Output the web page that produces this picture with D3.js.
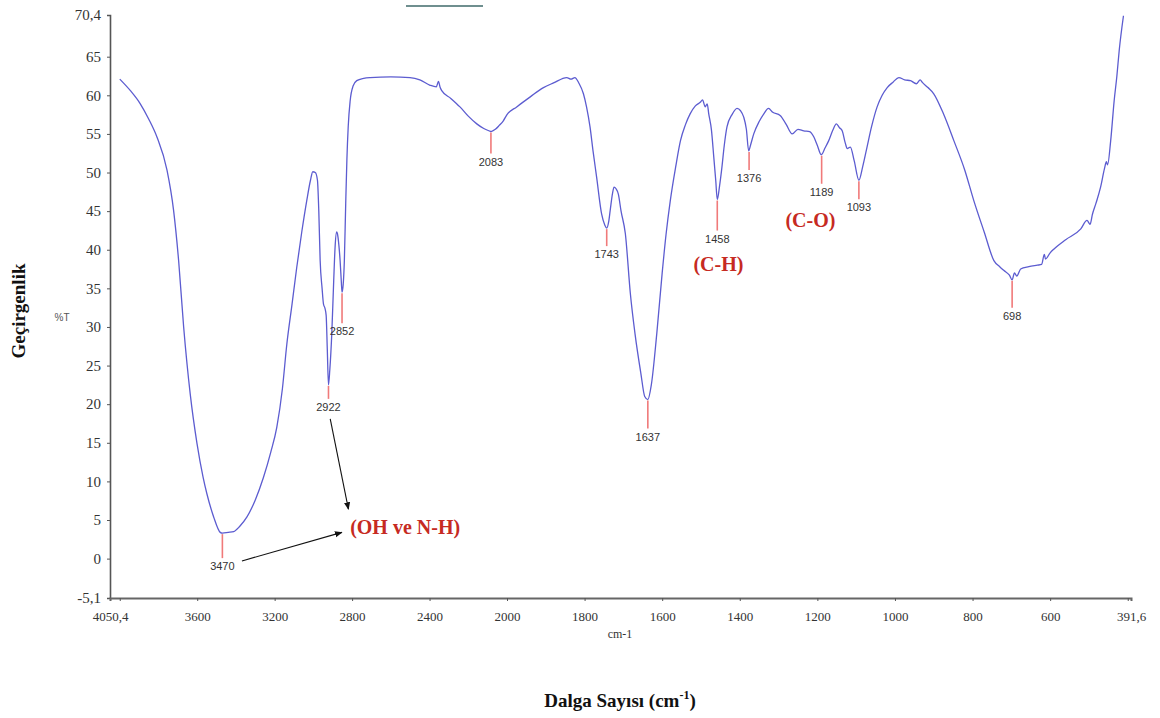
<!DOCTYPE html>
<html>
<head>
<meta charset="utf-8">
<script src="https://cdn.jsdelivr.net/npm/d3@7"></script>
<style>
  html, body { margin: 0; padding: 0; background: #fff; }
  svg { display: block; }
</style>
</head>
<body>
<div id="chart"></div>
<script>
// ---- data ----
const waveNumbers = [
  4000, 3945, 3894, 3850, 3808, 3756, 3722, 3696, 3670, 3636, 3601, 3570, 3550, 3515, 3481, 3470, 3440, 3412, 3380, 3343,
  3300, 3258, 3220, 3189, 3160, 3137, 3110, 3086, 3060, 3034, 3015, 3003, 2990, 2979, 2972, 2965, 2955, 2948, 2940, 2934,
  2928, 2922, 2915, 2905, 2895, 2888, 2880, 2876, 2868, 2862, 2856, 2852, 2846, 2840, 2833, 2827, 2820, 2810, 2795, 2776,
  2740, 2707, 2600, 2501, 2450, 2397, 2365, 2354, 2345, 2337, 2290, 2243, 2200, 2156, 2120, 2088, 2083, 2060, 2040, 2019,
  2000, 1975, 1940, 1906, 1880, 1846, 1835, 1825, 1815, 1803, 1795, 1786, 1778, 1769, 1756, 1748, 1743, 1738, 1734, 1728,
  1724, 1719, 1713, 1706, 1695, 1682, 1670, 1655, 1645, 1637, 1628, 1614, 1600, 1590, 1579, 1565, 1553, 1540, 1528, 1515,
  1502, 1496, 1489, 1484, 1480, 1473, 1467, 1462, 1458, 1452, 1446, 1440, 1433, 1420, 1407, 1398, 1390, 1383, 1377, 1372,
  1364, 1350, 1338, 1326, 1315, 1296, 1280, 1265, 1250, 1235, 1220, 1209, 1200, 1190, 1180, 1171, 1160, 1151, 1143, 1136,
  1128, 1123, 1115, 1105, 1093, 1083, 1072, 1060, 1046, 1033, 1020, 1005, 990, 975, 960, 945, 935, 930, 915, 900,
  875, 848, 820, 797, 770, 745, 730, 719, 705, 698, 692, 686, 676, 655, 633, 622, 615, 612, 600, 590,
  560, 521, 505, 497, 491, 482, 470, 460, 455, 452, 444, 435, 428, 422, 411
];
const transmittance = [
  62.1, 60.6, 58.9, 56.9, 54.6, 50.3, 45.1, 38.6, 30.0, 21.3, 14.9, 10.6, 8.4, 5.4, 3.4, 3.3, 3.4, 3.5, 4.2, 5.4,
  7.6, 10.5, 13.8, 17.0, 22.0, 27.8, 33.0, 37.7, 42.3, 46.4, 49.0, 50.1, 50.0, 49.0, 45.0, 38.6, 35.0, 33.0, 32.4, 31.5,
  27.0, 22.5, 24.5, 29.1, 36.0, 40.3, 42.3, 42.1, 40.5, 38.6, 36.0, 34.5, 35.5, 38.6, 46.0, 51.6, 56.0, 59.3, 61.2, 61.9,
  62.2, 62.3, 62.4, 62.3, 62.0, 61.3, 61.1, 61.8, 61.0, 60.6, 59.6, 58.5, 57.3, 56.3, 55.7, 55.35, 55.3, 55.6, 56.1, 56.7,
  57.5, 58.5, 59.8, 61.0, 61.6, 62.3, 62.1, 62.3, 61.6, 60.2, 58.5, 55.9, 52.7, 49.4, 44.6, 43.2, 42.8, 43.6, 45.1, 47.3,
  48.1, 47.9, 47.2, 45.0, 42.1, 34.3, 29.1, 24.0, 21.0, 20.6, 22.5, 29.1, 37.0, 42.0, 46.4, 50.8, 54.1, 56.2, 57.6, 58.6,
  59.1, 59.4, 58.5, 58.9, 57.6, 55.5, 52.0, 49.0, 46.5, 48.3, 50.7, 53.5, 55.9, 57.5, 58.3, 58.0, 57.2, 55.6, 52.8, 53.6,
  55.0, 56.6, 57.6, 58.3, 57.8, 57.4, 56.2, 55.0, 55.6, 55.4, 55.3, 54.6, 53.5, 52.3, 53.2, 54.1, 55.5, 56.3, 55.8, 55.4,
  53.8, 53.1, 53.3, 51.5, 49.0, 50.8, 53.3, 56.0, 58.5, 60.0, 61.0, 61.7, 62.3, 62.0, 61.9, 61.5, 62.0, 61.7, 61.0, 60.2,
  57.6, 54.1, 50.3, 46.4, 42.3, 38.6, 37.8, 37.3, 36.7, 36.1, 37.0, 36.6, 37.5, 37.8, 38.0, 38.1, 39.4, 38.8, 39.6, 40.1,
  41.3, 42.7, 43.8, 43.3, 44.6, 46.0, 48.1, 50.5, 51.4, 51.0, 54.1, 59.3, 62.5, 65.8, 70.3
];

const peakWaveNumbers = [3470, 2922, 2852, 2083, 1743, 1637, 1458, 1376, 1189, 1093, 698];
const peakTransmittance = [3.3, 22.5, 34.5, 55.3, 42.8, 20.6, 46.5, 52.8, 52.3, 49.0, 36.1];

const yTicks = [70.4, 65, 60, 55, 50, 45, 40, 35, 30, 25, 20, 15, 10, 5, 0, -5.1];
const xTicks = [4050.4, 4000, 3600, 3200, 2800, 2400, 2000, 1800, 1600, 1400, 1200, 1000, 800, 600, 400, 391.6];
const xUnlabeled = [4000, 400];

const groupLabels = ["(OH ve N-H)", "(C-H)", "(C-O)"];
const groupLabelWn = [2810, 1455, 1218];
const groupLabelT = [3.2, 37.3, 43.0];

const width = 1160, height = 718;

const svg = d3.select("#chart").append("svg")
  .attr("width", width)
  .attr("height", height);

// spectrum x axis: 2x expansion below 2000 cm-1
const x = d3.scaleLinear()
  .domain([4050.4, 2000, 391.6])
  .range([110, 507, 1131]);

const y = d3.scaleLinear()
  .domain([-5.1, 70.4])
  .range([598, 15]);

const fmt = d => String(d).replace(".", ",");
const serif = "'Liberation Serif', 'Times New Roman', serif";

// y axis
const yAxisG = svg.append("g")
  .attr("transform", `translate(${x.range()[0]},0)`)
  .call(d3.axisLeft(y).tickValues(yTicks).tickSize(3).tickPadding(6).tickFormat(fmt));
yAxisG.select(".domain").attr("stroke", "#555").attr("stroke-width", 1.6);
yAxisG.selectAll(".tick line").attr("stroke", "#555");
yAxisG.selectAll(".tick text")
  .attr("font-family", serif)
  .attr("font-size", "15px")
  .attr("fill", "#333");

// x axis
const xAxisG = svg.append("g")
  .attr("transform", `translate(0,${y.range()[0]})`)
  .call(d3.axisBottom(x).tickValues(xTicks).tickSize(3).tickPadding(11)
    .tickFormat(d => xUnlabeled.includes(d) ? "" : fmt(d)));
xAxisG.select(".domain").attr("stroke", "#666").attr("stroke-width", 2);
xAxisG.selectAll(".tick line").attr("stroke", "#555")
  .attr("opacity", d => (d === 4050.4 || d === 391.6) ? 0 : 1);
xAxisG.selectAll(".tick text")
  .attr("font-family", serif)
  .attr("font-size", "13px")
  .attr("fill", "#333");

svg.append("text")
  .attr("x", 620)
  .attr("y", 638)
  .attr("text-anchor", "middle")
  .attr("font-family", serif)
  .attr("font-size", "12px")
  .attr("fill", "#333")
  .text("cm-1");

svg.append("text")
  .attr("x", 62)
  .attr("y", 321)
  .attr("text-anchor", "middle")
  .attr("font-family", "'Liberation Sans', Arial, sans-serif")
  .attr("font-size", "10px")
  .attr("fill", "#555")
  .text("%T");

// axis titles
svg.append("text")
  .attr("transform", "translate(25,311) rotate(-90)")
  .attr("text-anchor", "middle")
  .attr("font-family", serif)
  .attr("font-weight", "bold")
  .attr("font-size", "19px")
  .attr("fill", "#111")
  .text("Geçirgenlik");

const xt = svg.append("text")
  .attr("x", 620)
  .attr("y", 707)
  .attr("text-anchor", "middle")
  .attr("font-family", serif)
  .attr("font-weight", "bold")
  .attr("font-size", "19px")
  .attr("fill", "#111");
xt.append("tspan").text("Dalga Sayısı (cm");
xt.append("tspan").attr("dy", -8).attr("font-size", "12px").text("-1");
xt.append("tspan").attr("dy", 8).text(")");

// small stray line at the top
svg.append("line")
  .attr("x1", 406).attr("x2", 483)
  .attr("y1", 6).attr("y2", 6)
  .attr("stroke", "#6f8f8f")
  .attr("stroke-width", 2);

// spectrum
const spectrum = waveNumbers.map((w, i) => ({ w, t: transmittance[i] }));
const line = d3.line()
  .x(d => x(d.w))
  .y(d => y(d.t))
  .curve(d3.curveMonotoneX);

svg.append("path")
  .datum(spectrum)
  .attr("fill", "none")
  .attr("stroke", "#5c5cd0")
  .attr("stroke-width", 1.3)
  .attr("stroke-linejoin", "round")
  .attr("d", line);

// peak markers
const tickLen = { 3470: 24, 2922: 13, 2852: 30, 2083: 21, 1743: 17, 1637: 28, 1458: 30, 1376: 18, 1189: 28, 1093: 18, 698: 27 };
const peaks = svg.append("g");
peakWaveNumbers.forEach((w, i) => {
  const px = x(w);
  const py = y(peakTransmittance[i]) + 1;
  const len = tickLen[w];
  peaks.append("line")
    .attr("x1", px).attr("x2", px)
    .attr("y1", py).attr("y2", py + len)
    .attr("stroke", "#f07a7a")
    .attr("stroke-width", 1.6);
  peaks.append("text")
    .attr("x", px)
    .attr("y", py + len + 12)
    .attr("text-anchor", "middle")
    .attr("font-family", "'Liberation Sans', Arial, sans-serif")
    .attr("font-size", "11px")
    .attr("fill", "#333")
    .text(w);
});

// group annotations
groupLabels.forEach((lbl, i) => {
  svg.append("text")
    .attr("x", x(groupLabelWn[i]))
    .attr("y", y(groupLabelT[i]))
    .attr("text-anchor", i === 0 ? "start" : "middle")
    .attr("font-family", serif)
    .attr("font-weight", "bold")
    .attr("font-size", "20px")
    .attr("fill", "#c62a22")
    .text(lbl);
});

// arrows
svg.append("defs").append("marker")
  .attr("id", "arrow")
  .attr("viewBox", "0 0 10 10")
  .attr("refX", 9).attr("refY", 5)
  .attr("markerWidth", 7).attr("markerHeight", 7)
  .attr("orient", "auto")
  .append("path")
  .attr("d", "M0,1 L10,5 L0,9 Z")
  .attr("fill", "#111");

const arrows = [
  { from: [3369, -0.3], to: [2853, 3.4] },
  { from: [2913, 18.1], to: [2819, 6.4] }
];
arrows.forEach(a => {
  svg.append("line")
    .attr("x1", x(a.from[0])).attr("y1", y(a.from[1]))
    .attr("x2", x(a.to[0])).attr("y2", y(a.to[1]))
    .attr("stroke", "#111")
    .attr("stroke-width", 1.1)
    .attr("marker-end", "url(#arrow)");
});
</script>
</body>
</html>
